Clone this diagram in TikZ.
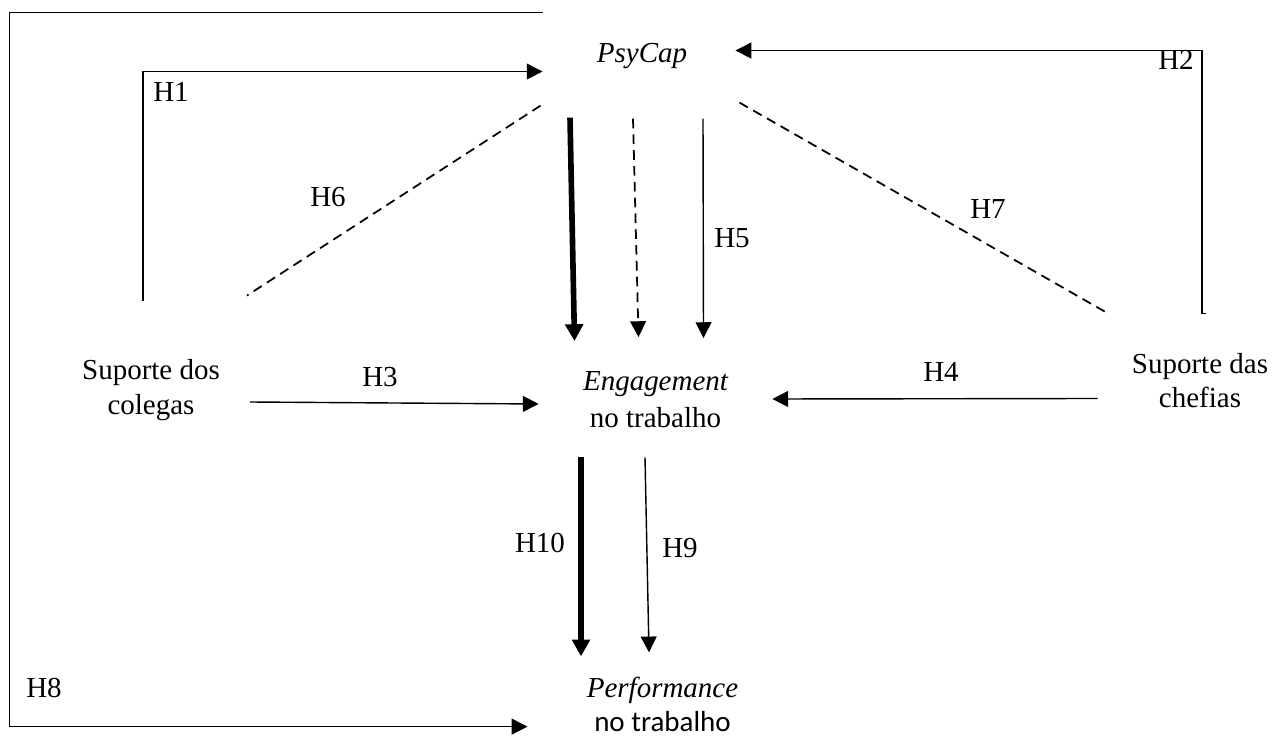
\documentclass[tikz,border=0pt]{standalone}
\usepackage{fontspec}
\setmainfont{Liberation Serif}
\newfontfamily\calibri{Carlito}
\usetikzlibrary{arrows.meta,calc}

\begin{document}
\begin{tikzpicture}[x=0.02cm,y=-0.02cm]
\tikzset{var/.style = {inner sep=0pt, align=center, font=\fontsize{16.5}{20.4}\selectfont}}
\tikzset{hyp/.style = {inner sep=0pt, anchor=base, font=\fontsize{16.5}{20.4}\selectfont}}
\tikzset{edge/.style = {-{Triangle[length=9pt,width=9pt]}, line width=0.8pt}}
\tikzset{bold edge/.style = {-{Triangle[length=9.6pt,width=10pt]}, line width=3.2pt}}
\tikzset{dashed line/.style = {dash pattern=on 5.5pt off 3.5pt, line width=1pt}}
\useasboundingbox (0,0) rectangle (1274,739);

\node[hyp] (psy) at (642,63) {\itshape PsyCap};
\node[var] (eng) at (655.5,400) {{\itshape Engagement}\\[0.6pt]no trabalho};
\node[var] (perf) at (662.5,704) {{\itshape Performance}\\[-1.1pt]{\calibri no trabalho}};
\node[var] (col) at (151,390) {Suporte dos\\colegas};
\node[var] (chef) at (1200,380.5) {Suporte das\\[-0.6pt]chefias};

\foreach \pos/\name in {{(171,102)/H1}, {(1176,70)/H2}, {(380,387)/H3}, {(941,382)/H4}, {(732,248)/H5},
  {(328,207)/H6}, {(988,219)/H7}, {(44,697)/H8}, {(680,557)/H9}, {(540,552)/H10}}
\node[hyp] (\name) at \pos {\name};

% supports -> PsyCap
\draw[edge] ($(col.north)+(-8,-58)$) |- ($(psy.west)+(-54,15)$);
\draw[edge] ($(chef.north)+(6,-39)$) -- ++(-4,0) |- ($(psy.east)+(48,-6)$);
\draw[dashed line] ($(psy.south west)+(-56,36)$) -- ($(col.north)+(96,-63)$);
\draw[dashed line] ($(psy.south east)+(52,33)$) -- ($(chef.north)+(-90,-38)$);

% into engagement
\draw[edge] ($(col.east)+(30,12)$) -- ($(eng.west)+(-44,4)$);
\draw[edge] ($(chef.west)+(-34,18)$) -- ($(eng.east)+(44,-1)$);
\draw[bold edge] ($(psy.south)+(-72,48)$) -- ($(eng.north)+(-81,-30.5)$);
\draw[edge,dashed line] ($(psy.south)+(-9,49)$) -- ($(eng.north)+(-17,-34.5)$);
\draw[edge] ($(psy.south)+(61,49)$) -- ($(eng.north)+(48,-33.5)$);

% into performance
\draw[bold edge] ($(eng.south)+(-74.5,29)$) -- ($(perf.north)+(-81.5,-20)$);
\draw[edge] ($(eng.south)+(-10.5,29)$) -- ($(perf.north)+(-13.5,-24)$);
\draw[edge] ($(psy.north west)+(-54,-31)$) -- ++(-533,0) |- ($(perf.south west)+(-59,-5)$);
\end{tikzpicture}
\end{document}
